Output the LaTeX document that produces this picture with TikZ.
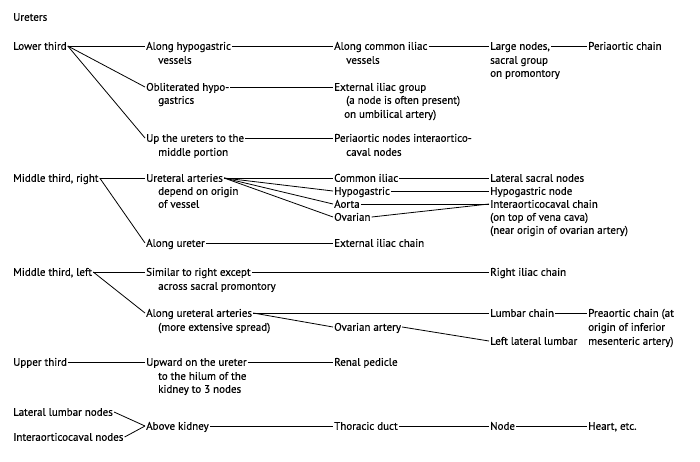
\documentclass[tikz,border=0pt]{standalone}
\usepackage{fontspec}
\setmainfont[FakeBold=0.3]{PT Sans}
\begin{document}
\begin{tikzpicture}[x=1pt,y=-1pt,
  lbl/.style={anchor=west,inner sep=0pt,outer sep=1.2pt,text height=1.5ex,text depth=0pt,font=\fontsize{11}{13}\selectfont},
  link/.style={draw,line width=0.8pt}]
\useasboundingbox (0,0) rectangle (700,461);
\fill[white] (0,0) rectangle (700,461);
% Lower third
\node[lbl] (ureters) at (12,17) {Ureters};
\node[lbl] (lt) at (12,46) {Lower third};
\node[lbl] (ah1) at (145,46) {Along hypogastric};
\node[lbl] (ah2) at (157,60) {vessels};
\node[lbl] (ac1) at (333,46) {Along common iliac};
\node[lbl] (ac2) at (345,60) {vessels};
\node[lbl] (ln1) at (489,46) {Large nodes,};
\node[lbl] (ln2) at (489,60) {sacral group};
\node[lbl] (ln3) at (489,73) {on promontory};
\node[lbl] (pc) at (587,46) {Periaortic chain};
\node[lbl] (oh1) at (145,87) {Obliterated hypo-};
\node[lbl] (oh2) at (157,100) {gastrics};
\node[lbl] (ei1) at (333,87) {External iliac group};
\node[lbl] (ei2) at (345,100) {(a node is often present)};
\node[lbl] (ei3) at (343,114) {on umbilical artery)};
\node[lbl] (up1) at (145,138) {Up the ureters to the};
\node[lbl] (up2) at (157,152) {middle portion};
\node[lbl] (pn1) at (333,138) {Periaortic nodes interaortico-};
\node[lbl] (pn2) at (345,152) {caval nodes};
\draw[link] (lt.east) -- (ah1.west);
\draw[link] (lt.east) -- (oh1.west);
\draw[link] (lt.east) -- (up1.west);
\draw[link] (ah1.east) -- (ac1.west);
\draw[link] (ac1.east) -- (ln1.west);
\draw[link] (ln1.east) -- (pc.west);
\draw[link] (oh1.east) -- (ei1.west);
\draw[link] (up1.east) -- (pn1.west);
% Middle third, right
\node[lbl] (mr) at (12,178) {Middle third, right};
\node[lbl] (ua1) at (145,178) {Ureteral arteries};
\node[lbl] (ua2) at (157,191) {depend on origin};
\node[lbl] (ua3) at (157,204) {of vessel};
\node[lbl] (ci) at (333,178) {Common iliac};
\node[lbl] (hy) at (333,191) {Hypogastric};
\node[lbl] (ao) at (333,204) {Aorta};
\node[lbl] (ov) at (333,217) {Ovarian};
\node[lbl] (ls) at (489,178) {Lateral sacral nodes};
\node[lbl] (hn) at (489,191) {Hypogastric node};
\node[lbl] (ic1) at (489,204) {Interaorticocaval chain};
\node[lbl] (ic2) at (489,217) {(on top of vena cava)};
\node[lbl] (ic3) at (489,230) {(near origin of ovarian artery)};
\node[lbl] (au) at (145,243) {Along ureter};
\node[lbl] (ec) at (333,243) {External iliac chain};
\draw[link] (mr.east) -- (ua1.west);
\draw[link] (mr.east) -- (au.west);
\draw[link] (ua1.east) -- (ci.west);
\draw[link] (ua1.east) -- (hy.west);
\draw[link] (ua1.east) -- (ao.west);
\draw[link] (ua1.east) -- (ov.west);
\draw[link] (ci.east) -- (ls.west);
\draw[link] (hy.east) -- (hn.west);
\draw[link] (ao.east) -- (ic1.west);
\draw[link] (ov.east) -- (ic1.west);
\draw[link] (au.east) -- (ec.west);
% Middle third, left
\node[lbl] (ml) at (12,272) {Middle third, left};
\node[lbl] (sr1) at (145,272) {Similar to right except};
\node[lbl] (sr2) at (157,286) {across sacral promontory};
\node[lbl] (ric) at (489,272) {Right iliac chain};
\node[lbl] (aua1) at (145,313) {Along ureteral arteries};
\node[lbl] (aua2) at (157,327) {(more extensive spread)};
\node[lbl] (lc) at (489,313) {Lumbar chain};
\node[lbl] (pre1) at (587,313) {Preaortic chain (at};
\node[lbl] (pre2) at (587,327) {origin of inferior};
\node[lbl] (pre3) at (587,341) {mesenteric artery)};
\node[lbl] (oa) at (333,327) {Ovarian artery};
\node[lbl] (lll) at (489,341) {Left lateral lumbar};
\draw[link] (ml.east) -- (sr1.west);
\draw[link] (ml.east) -- (aua1.west);
\draw[link] (sr1.east) -- (ric.west);
\draw[link] (aua1.east) -- (lc.west);
\draw[link] (aua1.east) -- (oa.west);
\draw[link] (lc.east) -- (pre1.west);
\draw[link] (oa.east) -- (lll.west);
% Upper third
\node[lbl] (ut) at (12,362) {Upper third};
\node[lbl] (uw1) at (145,362) {Upward on the ureter};
\node[lbl] (uw2) at (157,376) {to the hilum of the};
\node[lbl] (uw3) at (157,389) {kidney to 3 nodes};
\node[lbl] (rp) at (333,362) {Renal pedicle};
\draw[link] (ut.east) -- (uw1.west);
\draw[link] (uw1.east) -- (rp.west);
% Above kidney
\node[lbl] (lln) at (12,412) {Lateral lumbar nodes};
\node[lbl] (ian) at (12,437) {Interaorticocaval nodes};
\node[lbl] (ak) at (145,426) {Above kidney};
\node[lbl] (td) at (333,426) {Thoracic duct};
\node[lbl] (nd) at (489,426) {Node};
\node[lbl] (he) at (587,426) {Heart, etc.};
\draw[link] (lln.east) -- (ak.west);
\draw[link] (ian.east) -- (ak.west);
\draw[link] (ak.east) -- (td.west);
\draw[link] (td.east) -- (nd.west);
\draw[link] (nd.east) -- (he.west);
\end{tikzpicture}
\end{document}
